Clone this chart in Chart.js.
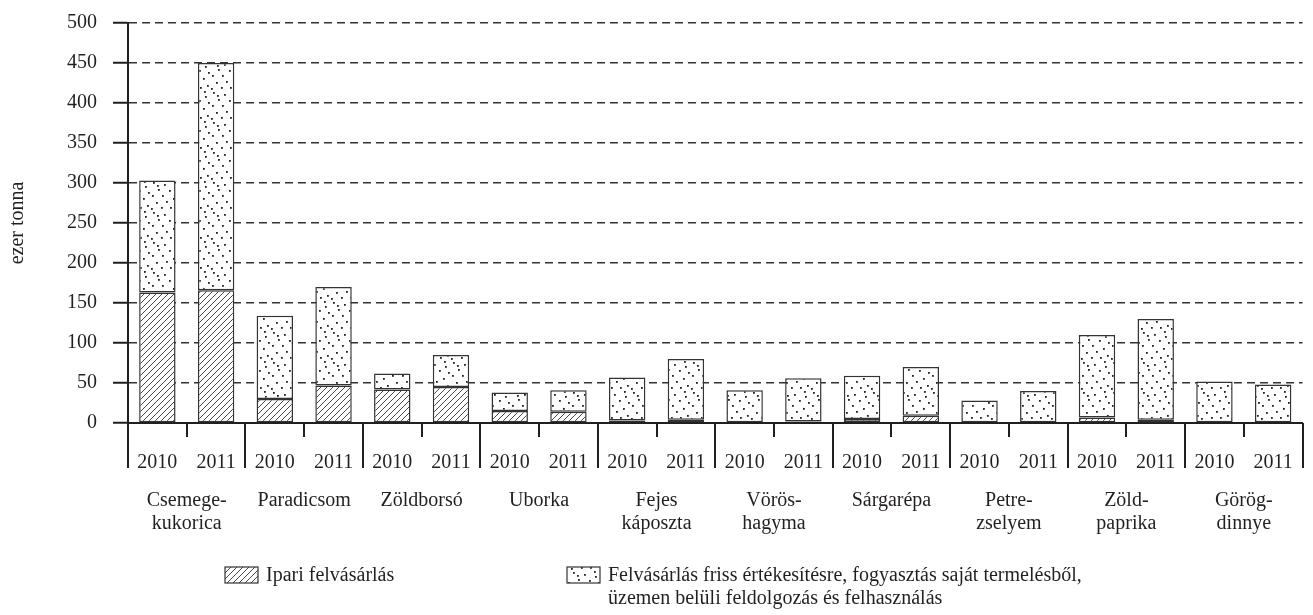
<!DOCTYPE html>
<html>
<head>
<meta charset="utf-8">
<script src="https://cdn.jsdelivr.net/npm/chart.js@4"></script>
<style>
html,body{margin:0;padding:0;background:#fff;}
#wrap{width:1313px;height:615px;position:relative;}
</style>
</head>
<body>
<div id="wrap"><canvas id="c" width="1313" height="615"></canvas></div>
<script>
// ---- data ----
const yearLabels = ['2010','2011','2010','2011','2010','2011','2010','2011','2010','2011',
                    '2010','2011','2010','2011','2010','2011','2010','2011','2010','2011'];
const categoryNames = [
  ['Csemege-','kukorica'], ['Paradicsom'], ['Zöldborsó'], ['Uborka'], ['Fejes','káposzta'],
  ['Vörös-','hagyma'], ['Sárgarépa'], ['Petre-','zselyem'], ['Zöld-','paprika'], ['Görög-','dinnye']
];
const ipariValues = [163,166, 30,47, 42,45, 15,14, 3,4, 1,2, 5,9, 0,0, 7,4, 0,0];
const frissValues = [140,284, 104,123, 20,40, 23,27, 54,76, 40,54, 54,61, 28,40, 103,126, 52,48];
const seriesLabels = ['Ipari felvásárlás',
  ['Felvásárlás friss értékesítésre, fogyasztás saját termelésből,', 'üzemen belüli feldolgozás és felhasználás']];
const yTicks = {min:0, max:500, step:50};
const yTitle = 'ezer tonna';

// ---- patterns ----
const FONT = "'Liberation Serif', 'DejaVu Serif', serif";
const INK = '#231f20';
const FS = 20;
function hatchPattern(){
  const s = 6, t = document.createElement('canvas');
  t.width = s; t.height = s;
  const g = t.getContext('2d');
  g.fillStyle = '#fff'; g.fillRect(0,0,s,s);
  g.strokeStyle = '#333'; g.lineWidth = 0.9;
  g.beginPath();
  g.moveTo(0,s); g.lineTo(s,0);
  g.moveTo(-1,1); g.lineTo(1,-1);
  g.moveTo(s-1,s+1); g.lineTo(s+1,s-1);
  g.stroke();
  return g.createPattern(t,'repeat');
}
function dotPattern(){
  const s = 30, t = document.createElement('canvas');
  t.width = s; t.height = s;
  const g = t.getContext('2d');
  g.fillStyle = '#fff'; g.fillRect(0,0,s,s);
  g.fillStyle = '#222';
  const dots = [[3,2],[14,4],[24,1],[8,9],[19,10],[28,12],[2,15],[12,15],[23,18],
                [6,22],[16,21],[27,25],[1,28],[11,27],[20,27],[25,6],[7,5]];
  dots.forEach(([x,y]) => g.fillRect(x,y,1.8,1.8));
  return g.createPattern(t,'repeat');
}

const extras = {
  id:'extras',
  afterDraw(chart){
    const ctx = chart.ctx, xs = chart.scales.x, area = chart.chartArea;
    const b = area.bottom;
    ctx.save();
    // tick marks
    ctx.strokeStyle = INK; ctx.lineWidth = 2;
    for (let i = 0; i <= yearLabels.length; i++){
      const x = Math.round(xs.getPixelForValue(i - 0.5));
      const len = (i % 2 === 0) ? 45 : 14;
      ctx.beginPath(); ctx.moveTo(x, b); ctx.lineTo(x, b + len); ctx.stroke();
    }
    // category names
    ctx.fillStyle = INK;
    ctx.font = FS + 'px ' + FONT;
    ctx.textAlign = 'center'; ctx.textBaseline = 'middle';
    categoryNames.forEach((lines, k) => {
      const cx = (xs.getPixelForValue(2*k) + xs.getPixelForValue(2*k+1)) / 2;
      lines.forEach((ln, j) => ctx.fillText(ln, cx, 501 + j*23));
    });
    // legend
    const ds = chart.data.datasets;
    const items = [{x:225, ds:ds[0]}, {x:567, ds:ds[1]}];
    items.forEach(it => {
      ctx.fillStyle = it.ds.backgroundColor;
      ctx.fillRect(it.x, 567, 33, 16);
      ctx.strokeStyle = '#333'; ctx.lineWidth = 1.2;
      ctx.strokeRect(it.x, 567, 33, 16);
      ctx.fillStyle = INK; ctx.textAlign = 'left';
      const lines = Array.isArray(it.ds.label) ? it.ds.label : [it.ds.label];
      lines.forEach((ln, j) => ctx.fillText(ln, it.x + 41, 576 + j*23));
    });
    ctx.restore();
  }
};

new Chart(document.getElementById('c'), {
  type:'bar',
  data:{
    labels: yearLabels,
    datasets:[
      {label: seriesLabels[0], data: ipariValues, backgroundColor: hatchPattern(),
       borderColor:'#333', borderWidth:1.5, borderSkipped:false},
      {label: seriesLabels[1], data: frissValues, backgroundColor: dotPattern(),
       borderColor:'#333', borderWidth:1.5, borderSkipped:false}
    ]
  },
  options:{
    responsive:false, animation:false,
    layout:{padding:{left:0, right:8, top:10, bottom:0}},
    plugins:{legend:{display:false}, tooltip:{enabled:false}},
    datasets:{bar:{barPercentage:0.62, categoryPercentage:1}},
    scales:{
      x:{
        stacked:true,
        grid:{display:false},
        border:{display:true, color:INK, width:2},
        ticks:{font:{family:FONT, size:FS}, color:INK, padding:20, maxRotation:0, autoSkip:false},
        afterFit(s){ s.height = 615 - 423; }
      },
      y:{
        stacked:true, min:yTicks.min, max:yTicks.max,
        ticks:{stepSize:yTicks.step, font:{family:FONT, size:FS, lineHeight:0.7}, color:INK, padding:16},
        grid:{color:'#333', lineWidth:1.5, drawTicks:true, tickLength:15, tickColor:INK, tickWidth:2, tickBorderDash:[]},
        border:{display:true, color:INK, width:2, dash:[8,5]},
        title:{display:true, text:yTitle, font:{family:FONT, size:FS}, color:INK, padding:{top:6,bottom:0}},
        afterFit(s){ s.width = 128; }
      }
    }
  },
  plugins:[extras]
});
</script>
</body>
</html>
